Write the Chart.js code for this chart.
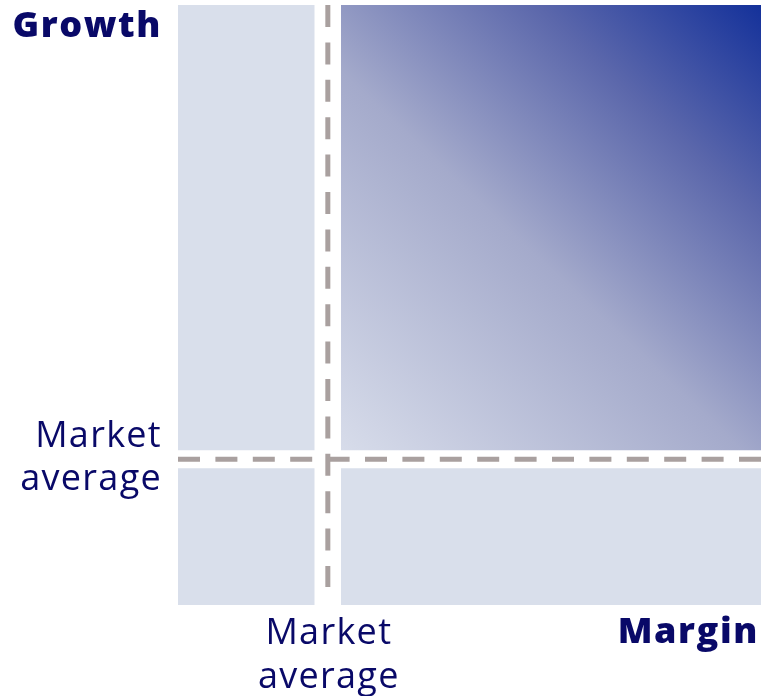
<!DOCTYPE html>
<html>
<head>
  <meta charset="UTF-8" />
  <title>Growth vs Margin</title>
  <script src="https://cdn.jsdelivr.net/npm/chart.js"></script>
  <style>
    html, body { margin: 0; padding: 0; background: #fff; }
    #wrap { width: 761px; height: 696px; }
  </style>
</head>
<body>
  <div id="wrap"><canvas id="matrix"></canvas></div>

  <script>
    // axis names and the market average reference on each axis (0-100 scale)
    const axisNames = ['Margin', 'Growth'];
    const averageLabel = ['Market', 'average'];
    const marketAverage = [25.7, 24.3]; // [margin, growth]
    const axisRange = [0, 100];

    const panelColor = '#d9dfeb';
    const dashColor = '#a9a09f';
    const textColor = '#090968';
    const font = '"Open Sans", "Noto Sans", sans-serif';
    const gapX = 2.25, gapY = 1.5;

    const avgX = marketAverage[0], avgY = marketAverage[1];
    const lo = axisRange[0], hi = axisRange[1];

    // one filled strip per quadrant: top edge as a line, filled down to its bottom value
    function quadrant(x0, x1, y0, y1, color) {
      return {
        data: [{ x: x0, y: y1 }, { x: x1, y: y1 }],
        showLine: true,
        borderWidth: 0,
        pointRadius: 0,
        fill: { value: y0 },
        backgroundColor: color
      };
    }

    // top-right quadrant fades from the panel colour to deep blue
    function leaderFill(ctx) {
      const chart = ctx.chart;
      const area = chart.chartArea;
      if (!area) return panelColor;
      const sx = chart.scales.x, sy = chart.scales.y;
      const g = chart.ctx.createLinearGradient(
        sx.getPixelForValue(avgX + gapX), sy.getPixelForValue(avgY + gapY),
        sx.getPixelForValue(hi), sy.getPixelForValue(hi));
      g.addColorStop(0, '#d7dcea');
      g.addColorStop(0.45, '#a4aacb');
      g.addColorStop(0.75, '#5b67ab');
      g.addColorStop(1, '#14319a');
      return g;
    }

    function dashed(points) {
      return {
        data: points,
        showLine: true,
        borderColor: dashColor,
        borderWidth: 5,
        borderDash: [22, 15.4],
        borderCapStyle: 'butt',
        pointRadius: 0,
        fill: false,
        clip: false
      };
    }

    const labels = {
      id: 'labels',
      afterDraw(chart) {
        const c = chart.ctx;
        const area = chart.chartArea;
        const px = chart.scales.x.getPixelForValue(avgX);
        const py = chart.scales.y.getPixelForValue(avgY);
        c.save();
        c.fillStyle = textColor;
        c.textBaseline = 'alphabetic';

        c.font = '800 36px ' + font;
        c.letterSpacing = '1.6px';
        c.textAlign = 'right';
        c.fillText(axisNames[1], area.left - 16, 37);
        c.fillText(axisNames[0], area.right - 2, area.bottom + 38);

        c.font = '36px ' + font;
        c.letterSpacing = '1.3px';
        c.fillText(averageLabel[0], area.left - 16, py - 12);
        c.fillText(averageLabel[1], area.left - 16, py + 31);

        c.textAlign = 'center';
        c.fillText(averageLabel[0], px + 1, area.bottom + 39);
        c.fillText(averageLabel[1], px + 1, area.bottom + 83);
        c.restore();
      }
    };

    new Chart(document.getElementById('matrix'), {
      type: 'scatter',
      data: {
        datasets: [
          dashed([{ x: avgX, y: hi }, { x: avgX, y: 3 }]),
          dashed([{ x: lo, y: avgY }, { x: hi, y: avgY }]),
          quadrant(lo, avgX - gapX, avgY + gapY, hi, panelColor),
          quadrant(avgX + gapX, hi, avgY + gapY, hi, leaderFill),
          quadrant(lo, avgX - gapX, lo, avgY - gapY, panelColor),
          quadrant(avgX + gapX, hi, lo, avgY - gapY, panelColor)
        ]
      },
      options: {
        responsive: true,
        maintainAspectRatio: false,
        animation: false,
        layout: { padding: { left: 178, right: 0, top: 5, bottom: 91 } },
        scales: {
          x: { type: 'linear', min: lo, max: hi, display: false },
          y: { type: 'linear', min: lo, max: hi, display: false }
        },
        plugins: {
          legend: { display: false },
          tooltip: { enabled: false }
        }
      },
      plugins: [labels]
    });
  </script>
</body>
</html>
